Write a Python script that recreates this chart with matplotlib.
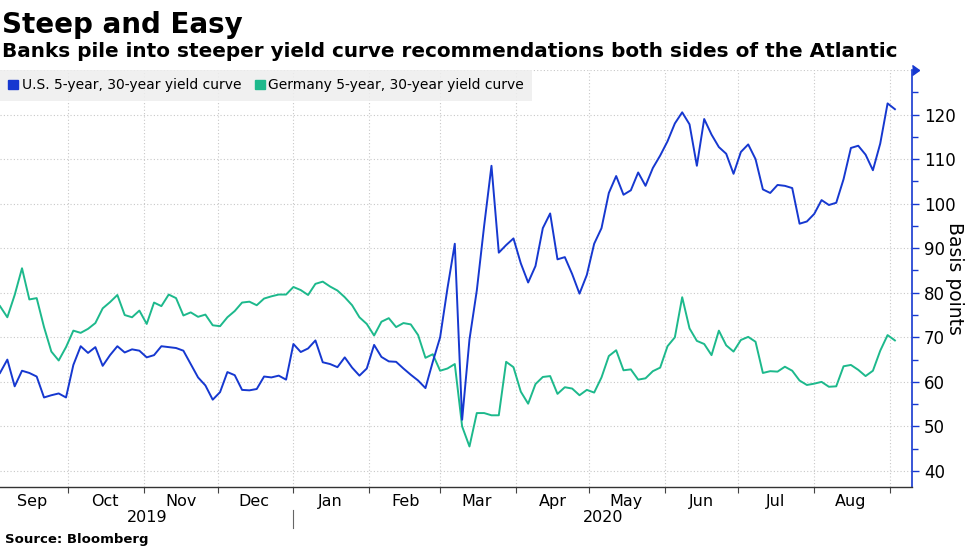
import matplotlib
matplotlib.use('Agg')
import matplotlib.pyplot as plt
import matplotlib.dates as mdates
import matplotlib.markers as mmarkers
from matplotlib.patches import Patch
from matplotlib.ticker import MultipleLocator, NullFormatter
from matplotlib.transforms import blended_transform_factory
import pandas as pd

# 5s30s curves, basis points, sampled every 3 days from the start date
start_date = '2019-09-03'
sample_step = '3D'
us_curve = [
    62, 65, 59, 62.5, 62, 61.2, 56.5, 57, 57.4, 56.5,
    63.8, 68, 66.5, 67.8, 63.6, 66, 68, 66.6, 67.3, 67,
    65.5, 66, 68, 67.8, 67.6, 67, 64, 61, 59.2, 56,
    57.7, 62.2, 61.5, 58.2, 58.1, 58.4, 61.2, 61, 61.4, 60.5,
    68.5, 66.7, 67.5, 69.3, 64.4, 64, 63.3, 65.5, 63.2, 61.4,
    63, 68.3, 65.6, 64.6, 64.5, 63, 61.6, 60.3, 58.6, 64.5,
    70, 81, 91, 51.5, 69.5, 80.5, 95, 108.5, 89, 90.7,
    92.2, 86.6, 82.3, 86, 94.5, 97.8, 87.5, 88, 84.2, 79.8,
    84, 91, 94.5, 102.4, 106.2, 102, 103, 107, 104, 108,
    110.8, 114, 118, 120.5, 117.8, 108.5, 119, 115.5, 112.7, 111.2,
    106.7, 111.6, 113.3, 110, 103.2, 102.4, 104.2, 104, 103.5, 95.5,
    96, 97.7, 100.8, 99.7, 100.2, 105.5, 112.5, 113, 111, 107.5,
    113.5, 122.5, 121.2,
]
de_curve = [
    77, 74.5, 79.5, 85.5, 78.5, 78.8, 72.3, 66.8, 64.8, 67.8,
    71.5, 71, 71.9, 73.2, 76.5, 77.9, 79.5, 75, 74.5, 76,
    73, 77.8, 77, 79.6, 78.8, 74.9, 75.6, 74.6, 75.1, 72.7,
    72.5, 74.5, 75.9, 77.8, 78, 77.2, 78.7, 79.2, 79.6, 79.6,
    81.3, 80.6, 79.5, 82, 82.5, 81.4, 80.5, 79, 77.2, 74.5,
    73, 70.4, 73.5, 74.3, 72.3, 73.2, 72.9, 70.5, 65.4, 66.2,
    62.5, 63, 64, 50, 45.5, 53, 53, 52.5, 52.5, 64.5,
    63.3, 57.8, 55.1, 59.5, 61.1, 61.3, 57.3, 58.8, 58.5, 57,
    58.2, 57.6, 61, 65.8, 67.1, 62.6, 62.8, 60.5, 60.8, 62.4,
    63.2, 68, 70, 79, 72, 69.2, 68.5, 66, 71.5, 68.2,
    66.8, 69.4, 70.1, 69, 62, 62.4, 62.3, 63.4, 62.5, 60.3,
    59.3, 59.6, 60, 58.9, 59, 63.5, 63.8, 62.7, 61.3, 62.5,
    67, 70.5, 69.3,
]
series_labels = ['U.S. 5-year, 30-year yield curve',
                 'Germany 5-year, 30-year yield curve']
y_ticks = [40, 50, 60, 70, 80, 90, 100, 110, 120, 130]
year_labels = ['2019', '2020']

BLUE = '#1638d0'
GREEN = '#1db98c'

dates = pd.date_range(start_date, periods=len(us_curve), freq=sample_step)
x_left = pd.Timestamp('2019-09-03')
x_right = pd.Timestamp('2020-09-10')
year_split = pd.Timestamp('2020-01-01')

fig = plt.figure(figsize=(9.77, 5.49), dpi=100)
ax = fig.add_axes([0, 0.1129, 0.9335, 0.7596])

ax.plot(dates, de_curve, color=GREEN, lw=1.4, zorder=3)
ax.plot(dates, us_curve, color=BLUE, lw=1.4, zorder=4)

ax.set_xlim(x_left, x_right)
ax.set_ylim(36.4, 130)

# x axis: ticks on month starts, names centred in the month
ax.xaxis.set_major_locator(mdates.MonthLocator())
ax.xaxis.set_major_formatter(NullFormatter())
ax.xaxis.set_minor_locator(mdates.MonthLocator(bymonthday=16))
ax.xaxis.set_minor_formatter(mdates.DateFormatter('%b'))
ax.tick_params(axis='x', which='major', length=4, color='#444444', width=0.8)
ax.tick_params(axis='x', which='minor', length=0, labelsize=11.5, pad=5)

# y axis on the right
ax.yaxis.tick_right()
ax.set_yticks(y_ticks)
ax.set_yticklabels([str(v) if v < 130 else '' for v in y_ticks])
ax.yaxis.set_minor_locator(MultipleLocator(5))
ax.tick_params(axis='y', which='both', colors=BLUE, labelcolor='black',
               direction='out', width=1, labelsize=12)
ax.tick_params(axis='y', which='major', length=5)
ax.tick_params(axis='y', which='minor', length=4)
ax.plot([1], [1], marker=mmarkers.CARETRIGHTBASE, color=BLUE, markersize=7,
        transform=ax.transAxes, clip_on=False)

ax.set_ylabel('Basis points', rotation=270, fontsize=13.5, va='center', ha='center')
ax.yaxis.set_label_position('right')
ax.yaxis.set_label_coords(1.057, 0.5)

for side in ['left', 'top']:
    ax.spines[side].set_visible(False)
ax.spines['right'].set_color(BLUE)
ax.spines['right'].set_linewidth(1.2)
ax.spines['bottom'].set_color('#333333')
ax.spines['bottom'].set_linewidth(1)

ax.grid(which='major', color='#c8c8c8', linestyle=(0, (1, 2)), lw=0.8)
ax.set_axisbelow(True)

# year labels under the months
trans = blended_transform_factory(ax.transData, ax.transAxes)
left_num = mdates.date2num(x_left)
split_num = mdates.date2num(year_split)
right_num = mdates.date2num(x_right)
ax.text((left_num + split_num) / 2, -0.074, year_labels[0], transform=trans,
        ha='center', va='center', fontsize=11.5)
ax.text((split_num + right_num) / 2, -0.074, year_labels[1], transform=trans,
        ha='center', va='center', fontsize=11.5)
ax.plot([split_num, split_num], [-0.055, -0.098], transform=trans,
        color='#666666', lw=0.8, clip_on=False)

handles = [Patch(color=BLUE, label=series_labels[0]),
           Patch(color=GREEN, label=series_labels[1])]
leg = ax.legend(handles=handles, loc='upper left', bbox_to_anchor=(0, 1),
                ncol=2, frameon=True, fancybox=False, facecolor='#eeeeee',
                edgecolor='none', framealpha=0.85, fontsize=10,
                handlelength=0.7, handleheight=0.7, handletextpad=0.25,
                columnspacing=1.0, borderaxespad=0, borderpad=0.6)

fig.text(0.002, 1 - 33 / 549, 'Steep and Easy', fontsize=20,
         fontweight='bold', va='baseline')
fig.text(0.002, 1 - 57 / 549,
         'Banks pile into steeper yield curve recommendations both sides of the Atlantic',
         fontsize=14.4, fontweight='bold', va='baseline')
fig.text(0.005, 1 - 543 / 549, 'Source: Bloomberg', fontsize=9.5,
         fontweight='bold', va='baseline')

fig.savefig('out.png', dpi=100)
